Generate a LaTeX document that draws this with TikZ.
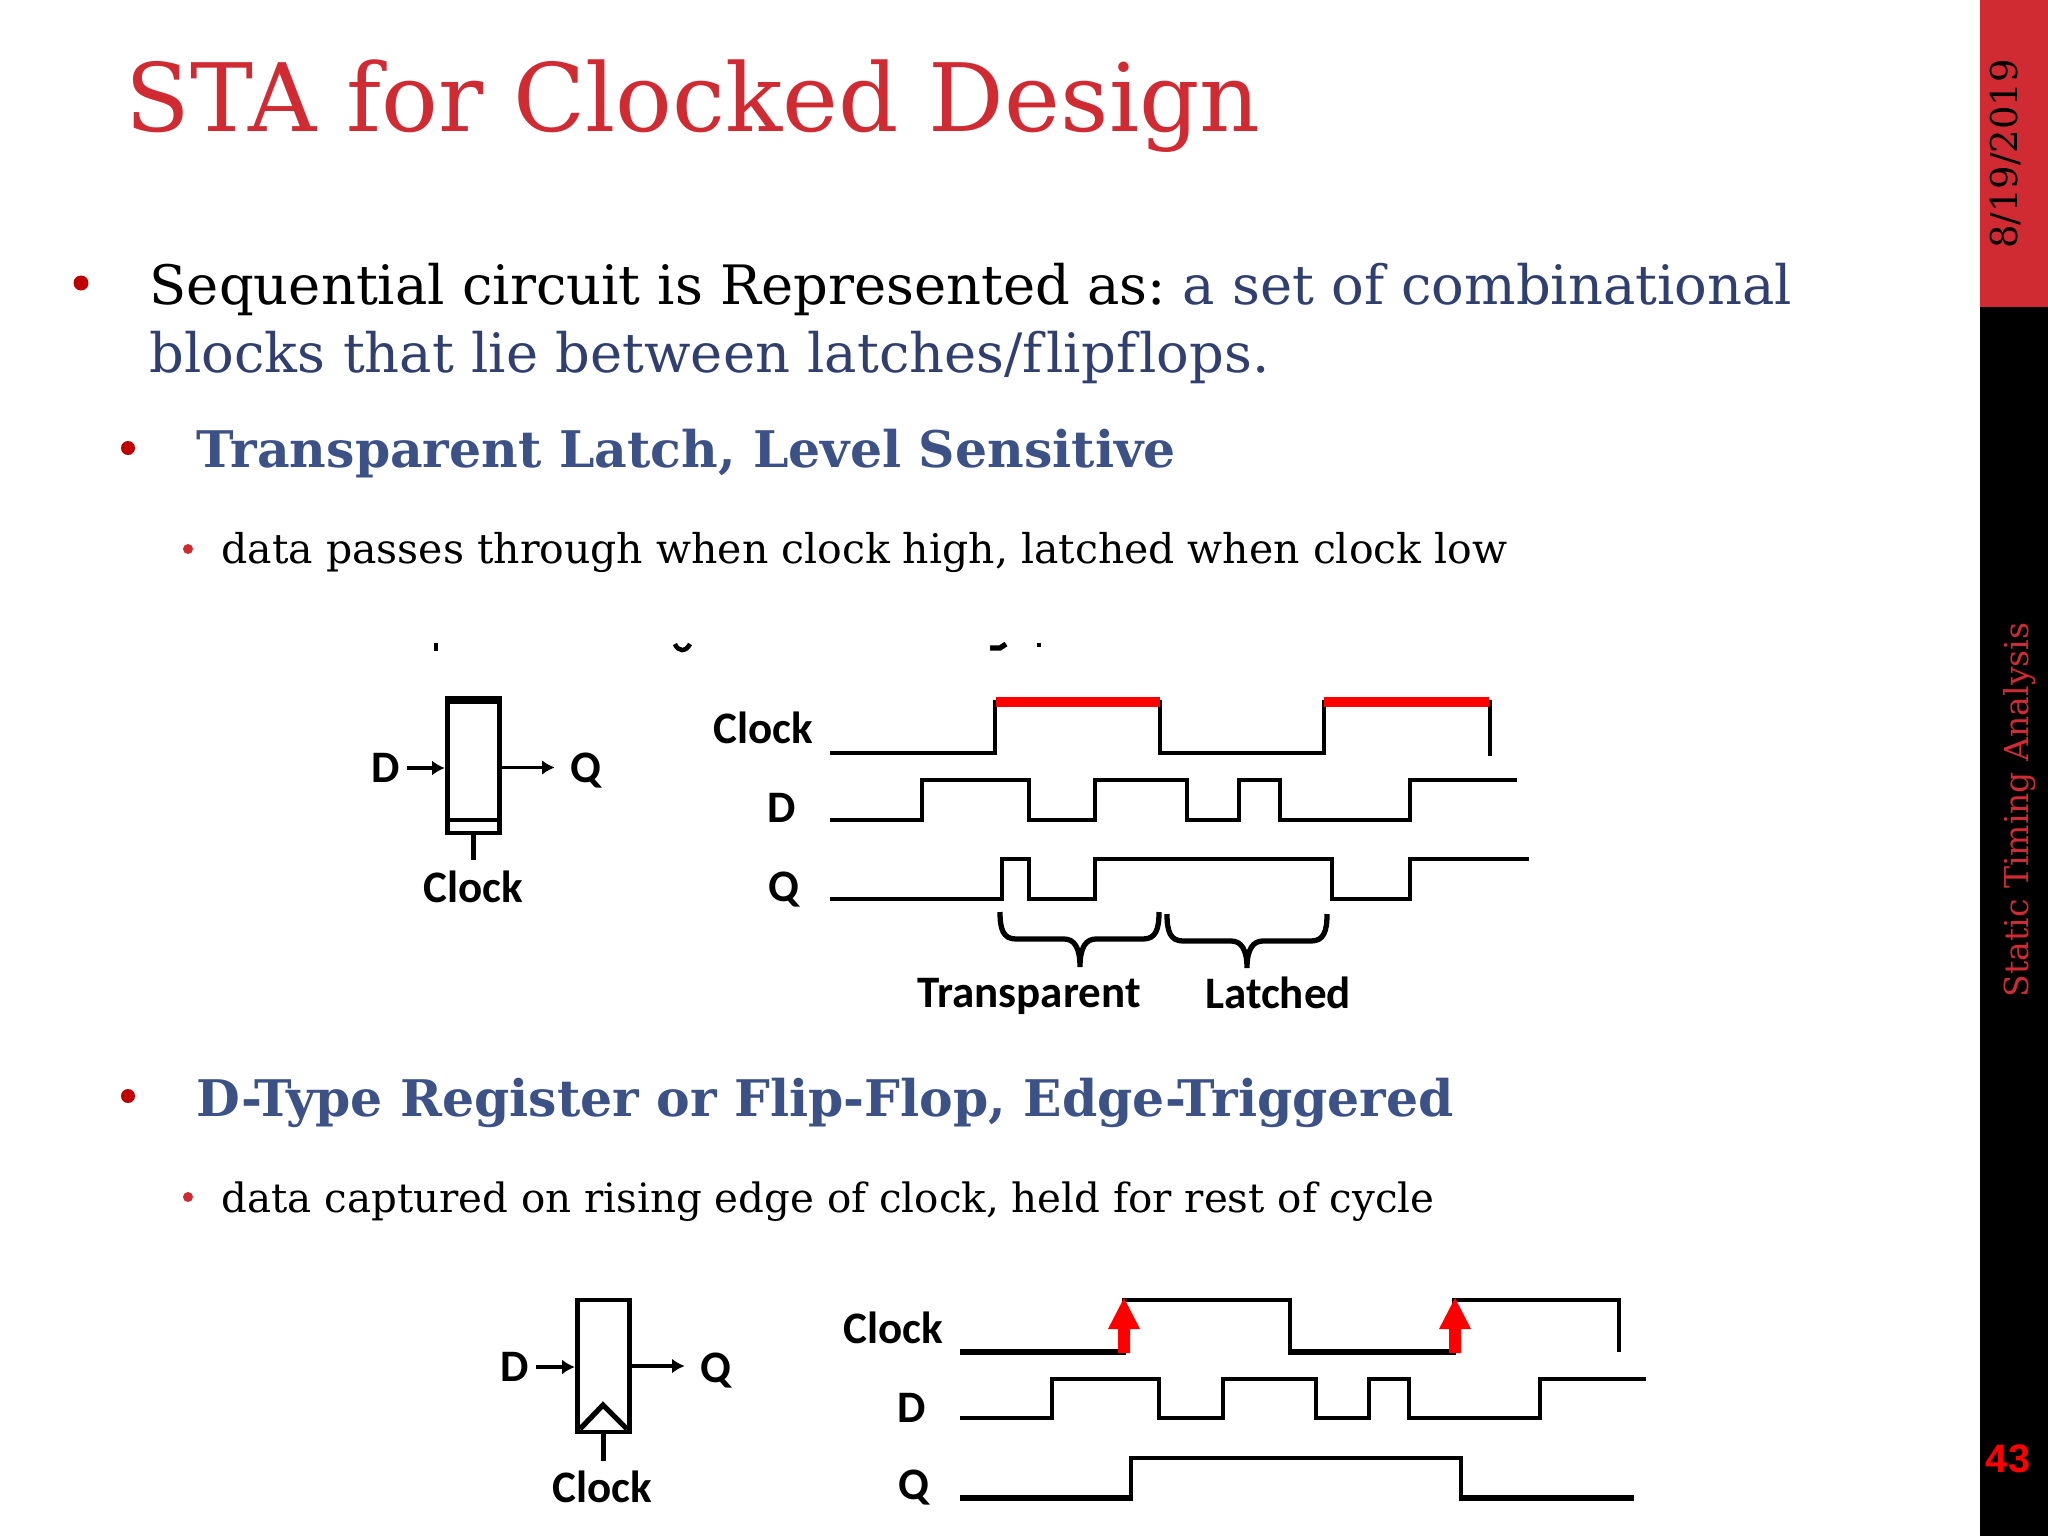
\documentclass[tikz,border=0pt]{standalone}
\usepackage{fontspec}
\setmainfont{DejaVu Serif}
\newfontfamily\handfont{Carlito}
\newfontfamily\numfont{Liberation Sans}
\definecolor{slidered}{HTML}{D02B33}
\definecolor{dotred}{HTML}{C00000}
\definecolor{slidenavy}{HTML}{2F3F6F}
\definecolor{headblue}{HTML}{3C5287}
\definecolor{pure}{HTML}{FE0000}
\usetikzlibrary{arrows.meta}
\tikzset{
  px/.style={x=0.01cm,y=-0.01cm},
  hand/.style={font=\handfont\bfseries\fontsize{12.8}{14}\selectfont,inner sep=0pt},
  wave/.style={line width=1.35pt,line join=miter},
  ffbox/.style={draw,line width=1.35pt,minimum width=52.5*0.01cm,minimum height=131*0.01cm,inner sep=0pt},
  sig/.style={line width=0.9pt,-{Latex[length=3.6pt,width=4.2pt]}},
  stem/.style={line width=1.5pt},
  body/.style={anchor=base west,inner sep=0pt},
  lone/.style={body,font=\fontsize{15.45}{17}\selectfont},
  ltwo/.style={body,font=\bfseries\fontsize{14.35}{16}\selectfont,text=headblue},
  lthree/.style={body,font=\fontsize{11.6}{13}\selectfont}
}
\begin{document}
\begin{tikzpicture}[px]
  \useasboundingbox (0,0) rectangle (2048,1536);
  % side bar
  \fill[slidered] (1980,0) rectangle (2048,307);
  \fill[black] (1980,307) rectangle (2048,1536);
  \node[rotate=90,inner sep=0pt,font=\fontsize{10.5}{11}\selectfont] (date) at (2005,154) {8/19/2019};
  \node[rotate=90,inner sep=0pt,text=slidered,font=\fontsize{9.4}{10}\selectfont] (course) at (2020,810) {Static Timing Analysis};
  \node[inner sep=0pt,text=pure,font=\numfont\bfseries\fontsize{11.3}{12}\selectfont] (page) at (2008,1459) {43};
  % title
  \node[body,text=slidered,font=\fontsize{26.85}{30}\selectfont] (title) at (125,131) {STA for Clocked Design};
  % bullets
  \foreach \x/\y/\r in {81/283/7.5, 128/448/7, 128/1096/7} {
    \fill[dotred] (\x,\y) circle (\r);
  }
  \foreach \x/\y in {188/549, 188/1197} {
    \fill[slidered] (\x,\y) circle (5);
  }
  \node[lone] (introa) at (149,304) {Sequential circuit is Represented as:\kern-0.2pt\ \textcolor{slidenavy}{a set of combinational}};
  \node[lone,text=slidenavy] (introb) at (149,372) {blocks that lie between latches/f\kern1pt lipf\kern1pt lops.};
  \node[ltwo] (latchhead) at (196,467) {Transparent Latch, Level Sensitive};
  \node[lthree,font=\fontsize{11.65}{13}\selectfont] (latchnote) at (221,563) {data passes through when clock high, latched when clock low};
  \node[ltwo] (ffhead) at (196,1116) {D-Type Register or Flip-Flop, Edge-Triggered};
  \node[lthree,font=\fontsize{11.48}{13}\selectfont] (ffnote) at (221,1212) {data captured on rising edge of clock, held for rest of cycle};
  % bits of cropped text above the latch figure
  \draw[line width=1.3pt] (436,643) -- (436,651);
  \draw[line width=1.3pt] (675,644) .. controls (678,652) and (686,652) .. (690,644);
  \draw[line width=1.5pt] (990,648) -- (1000,648) -- (1006,644);
  \draw[line width=1.1pt] (1039,643) -- (1039,647);
  % latch symbol
  \node[ffbox] (latch) at (473.5,767.5) {};
  \node[hand] (latchD) at (386,768) {D};
  \node[hand] (latchQ) at (586,771) {Q};
  \node[hand] (latchClk) at (473,887) {Clock};
  \draw[sig] (latchD) ++(21,0) -- (latch.west |- latchD);
  \draw[sig,shorten >=4.3pt] (latch.east) -- (latch.east -| latchQ.west);
  \draw[stem] (latch.south) -- ++(0,25);
  \draw[line width=1.1pt] (latch.west |- 0,820) -- (latch.east |- 0,820);
  \draw[line width=2pt] (latch.north west) -- (latch.north east);
  % latch waveforms
  \node[hand] (lwClk) at (763,728) {Clock};
  \node[hand] (lwD) at (782,808) {D};
  \node[hand] (lwQ) at (784,890) {Q};
  \draw[wave] (830,753) -| (995,702) -| (1160,753) -| (1324,702) -| (1490,756);
  \draw[wave] (830,820) -| (922,780) -| (1029,820) -| (1095,780) -| (1187,820) -| (1239,780) -| (1280,820) -| (1410,780) -- (1517,780);
  \draw[wave] (830,899) -| (1002,859) -| (1029,899) -| (1095,859) -| (1332,899) -| (1410,859) -- (1529,859);
  \foreach \xa/\xb in {996/1160, 1324/1489} {
    \fill[pure] (\xa,697) rectangle (\xb,707);
  }
  % braces
  \foreach \xa/\xm/\xb/\yt/\ym/\ye in {1000/1080/1159/912/939/967, 1167/1247/1327/914/941/968} {
    \draw[line width=1.5pt]
      (\xa,\yt) .. controls (\xa,{\ym-10}) and ({\xa+3},\ym) .. ({\xa+16},\ym)
      -- ({\xm-16},\ym) .. controls ({\xm-6},\ym) and (\xm,{\ym+8}) .. (\xm,\ye)
      .. controls (\xm,{\ym+8}) and ({\xm+6},\ym) .. ({\xm+16},\ym)
      -- ({\xb-16},\ym) .. controls ({\xb-3},\ym) and (\xb,{\ym-10}) .. (\xb,\yt);
  }
  \node[hand] (lwT) at (1029,996) {Transparent};
  \node[hand] (lwL) at (1278,993) {Latched};
  % flip-flop symbol
  \node[ffbox,minimum height=132*0.01cm] (ff) at (603.5,1366) {};
  \node[hand] (ffD) at (515,1367) {D};
  \node[hand] (ffQ) at (716,1371) {Q};
  \node[hand] (ffClk) at (602,1487) {Clock};
  \draw[sig] (ffD) ++(21,0) -- (ff.west |- ffD);
  \draw[sig,shorten >=4.3pt] (ff.east) -- (ff.east -| ffQ.west);
  \draw[stem] (ff.south) -- ++(0,27);
  \draw[line width=1.5pt] (580,1429) -- (603,1405) -- (627,1429);
  % flip-flop waveforms
  \node[hand] (fwClk) at (893,1328) {Clock};
  \node[hand] (fwD) at (912,1408) {D};
  \node[hand] (fwQ) at (914,1488) {Q};
  \draw[wave] (960,1352) -| (1124,1300) -| (1290,1352) -| (1454,1300) -| (1619,1352);
  \draw[wave] (960,1418) -| (1052,1379) -| (1159,1418) -| (1223,1379) -| (1316,1418) -| (1369,1379) -| (1409,1418) -| (1540,1379) -- (1646,1379);
  \draw[wave] (960,1498) -| (1131,1458) -| (1461,1498) -- (1634,1498);
  % heavier low stretches
  \foreach \xa/\xb/\y in {960/1126/1352, 1288/1456/1352, 960/1133/1498, 1459/1634/1498} {
    \draw[line width=1.8pt] (\xa,\y) -- (\xb,\y);
  }
  \foreach \x in {1124,1455} {
    \fill[pure] ({\x-6},1353) -- ({\x-6},1329) -- ({\x-16},1329) -- (\x,1298) -- ({\x+16},1329) -- ({\x+6},1329) -- ({\x+6},1353) -- cycle;
  }
\end{tikzpicture}
\end{document}
